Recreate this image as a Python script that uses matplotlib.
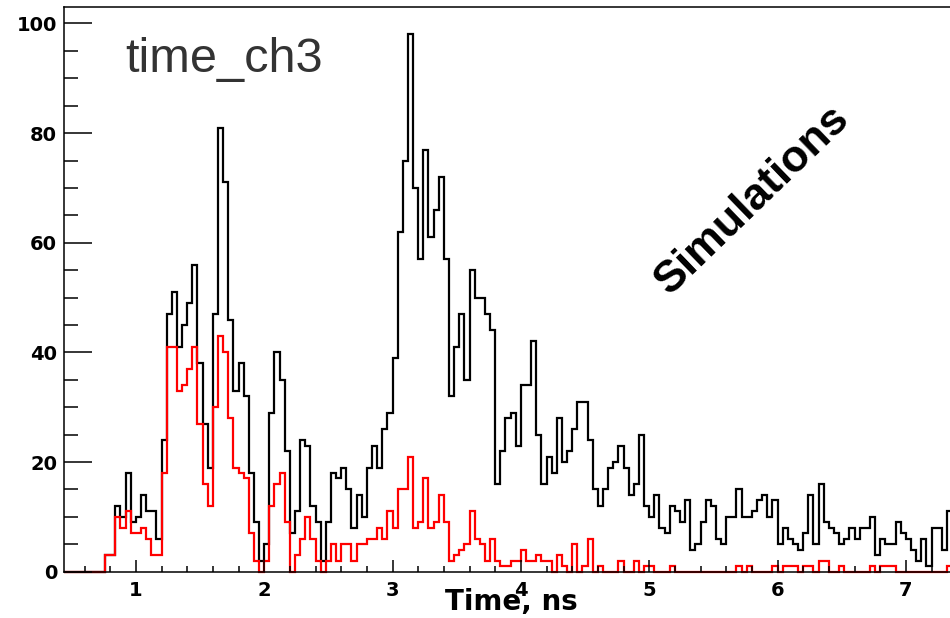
import numpy as np
import matplotlib
matplotlib.use('Agg')
import matplotlib.pyplot as plt
from matplotlib.ticker import MultipleLocator

# histogram binning (0.04 ns bins starting at 0.44 ns)
bin_lo = 0.44
bin_w = 0.04

# all hits, one value per bin
counts_all = [0, 0, 0, 0, 0, 0, 0, 0, 3, 3,
              12, 10, 18, 9, 10, 14, 11, 11, 6, 24,
              47, 51, 41, 45, 49, 56, 38, 27, 19, 47,
              81, 71, 46, 33, 38, 32, 18, 9, 2, 5,
              29, 40, 35, 22, 7, 11, 24, 23, 12, 9,
              2, 9, 18, 17, 19, 15, 8, 14, 10, 19,
              23, 19, 26, 29, 39, 62, 75, 98, 70, 57,
              77, 61, 66, 72, 57, 32, 41, 47, 35, 55,
              50, 50, 47, 44, 16, 22, 28, 29, 23, 34,
              34, 42, 25, 16, 21, 18, 28, 20, 22, 26,
              31, 31, 24, 15, 12, 15, 19, 20, 23, 19,
              14, 16, 25, 12, 10, 14, 8, 7, 12, 11,
              9, 13, 4, 5, 9, 13, 12, 6, 5, 10,
              10, 15, 10, 10, 11, 13, 14, 10, 13, 5,
              8, 6, 5, 4, 7, 14, 5, 16, 9, 8,
              7, 5, 6, 8, 6, 8, 8, 10, 3, 6,
              5, 5, 9, 7, 6, 4, 2, 6, 1, 8,
              8, 4, 11]

# selected hits (red)
counts_sel = [0, 0, 0, 0, 0, 0, 0, 0, 3, 3,
              10, 8, 11, 7, 7, 8, 6, 3, 3, 18,
              41, 41, 33, 34, 37, 41, 27, 16, 12, 30,
              43, 40, 28, 19, 18, 17, 7, 2, 0, 2,
              12, 16, 18, 9, 0, 3, 6, 10, 6, 2,
              0, 2, 5, 2, 5, 5, 2, 5, 5, 6,
              6, 8, 6, 11, 8, 15, 15, 21, 8, 9,
              17, 8, 9, 14, 9, 2, 3, 4, 5, 11,
              6, 5, 2, 6, 2, 1, 1, 2, 2, 4,
              2, 2, 3, 2, 2, 0, 3, 1, 0, 5,
              0, 1, 6, 0, 1, 0, 0, 0, 2, 0,
              0, 2, 0, 1, 1, 0, 0, 0, 1, 0,
              0, 0, 0, 0, 0, 0, 0, 0, 0, 0,
              0, 1, 0, 1, 0, 0, 0, 0, 1, 0,
              1, 1, 1, 0, 1, 1, 0, 2, 2, 0,
              0, 1, 0, 0, 0, 0, 0, 1, 0, 1,
              1, 1, 0, 0, 0, 0, 0, 0, 0, 0,
              0, 0, 1]

edges = bin_lo + bin_w * np.arange(len(counts_all) + 1)

W, H = 950, 618
fig = plt.figure(figsize=(W / 100, H / 100), dpi=100)
# axes runs past the right border of the picture (cropped like the original)
ax = fig.add_axes([64 / W, 46.3 / H, 924 / W, 564.7 / H])

ax.stairs(counts_all, edges, color='black', lw=1.6, baseline=0, clip_on=False)
ax.stairs(counts_sel, edges, color='red', lw=1.6, baseline=0, clip_on=False)

ax.set_xlim(0.44, 7.64)
ax.set_ylim(0, 103)

ax.xaxis.set_major_locator(MultipleLocator(1))
ax.xaxis.set_minor_locator(MultipleLocator(0.2))
ax.yaxis.set_major_locator(MultipleLocator(20))
ax.yaxis.set_minor_locator(MultipleLocator(5))

ax.tick_params(axis='y', which='major', direction='in', length=20, width=1.1, pad=5)
ax.tick_params(axis='y', which='minor', direction='in', length=10, width=1.1)
ax.tick_params(axis='x', which='major', direction='in', length=9, width=1.1, pad=7)
ax.tick_params(axis='x', which='minor', direction='in', length=4.5, width=1.1)
ax.tick_params(right=False, top=False, which='both')

for lab in ax.get_xticklabels() + ax.get_yticklabels():
    lab.set_fontfamily('DejaVu Sans')
    lab.set_fontweight('bold')
    lab.set_fontsize(14)

for sp in ax.spines.values():
    sp.set_linewidth(1.1)

fig.text(125 / W, 1 - 72 / H, 'time_ch3', fontsize=35, color='#333333',
         family='Liberation Sans', va='baseline', ha='left')
fig.text(752 / W, 1 - 200 / H, 'Simulations', fontsize=32, fontweight='bold',
         family='Liberation Sans', rotation=44, ha='center', va='center',
         rotation_mode='anchor')
fig.text(511 / W, 1 - 588 / H, 'Time, ns', fontsize=20, fontweight='bold',
         family='DejaVu Sans', ha='center', va='top')

fig.savefig('out.png', dpi=100)
